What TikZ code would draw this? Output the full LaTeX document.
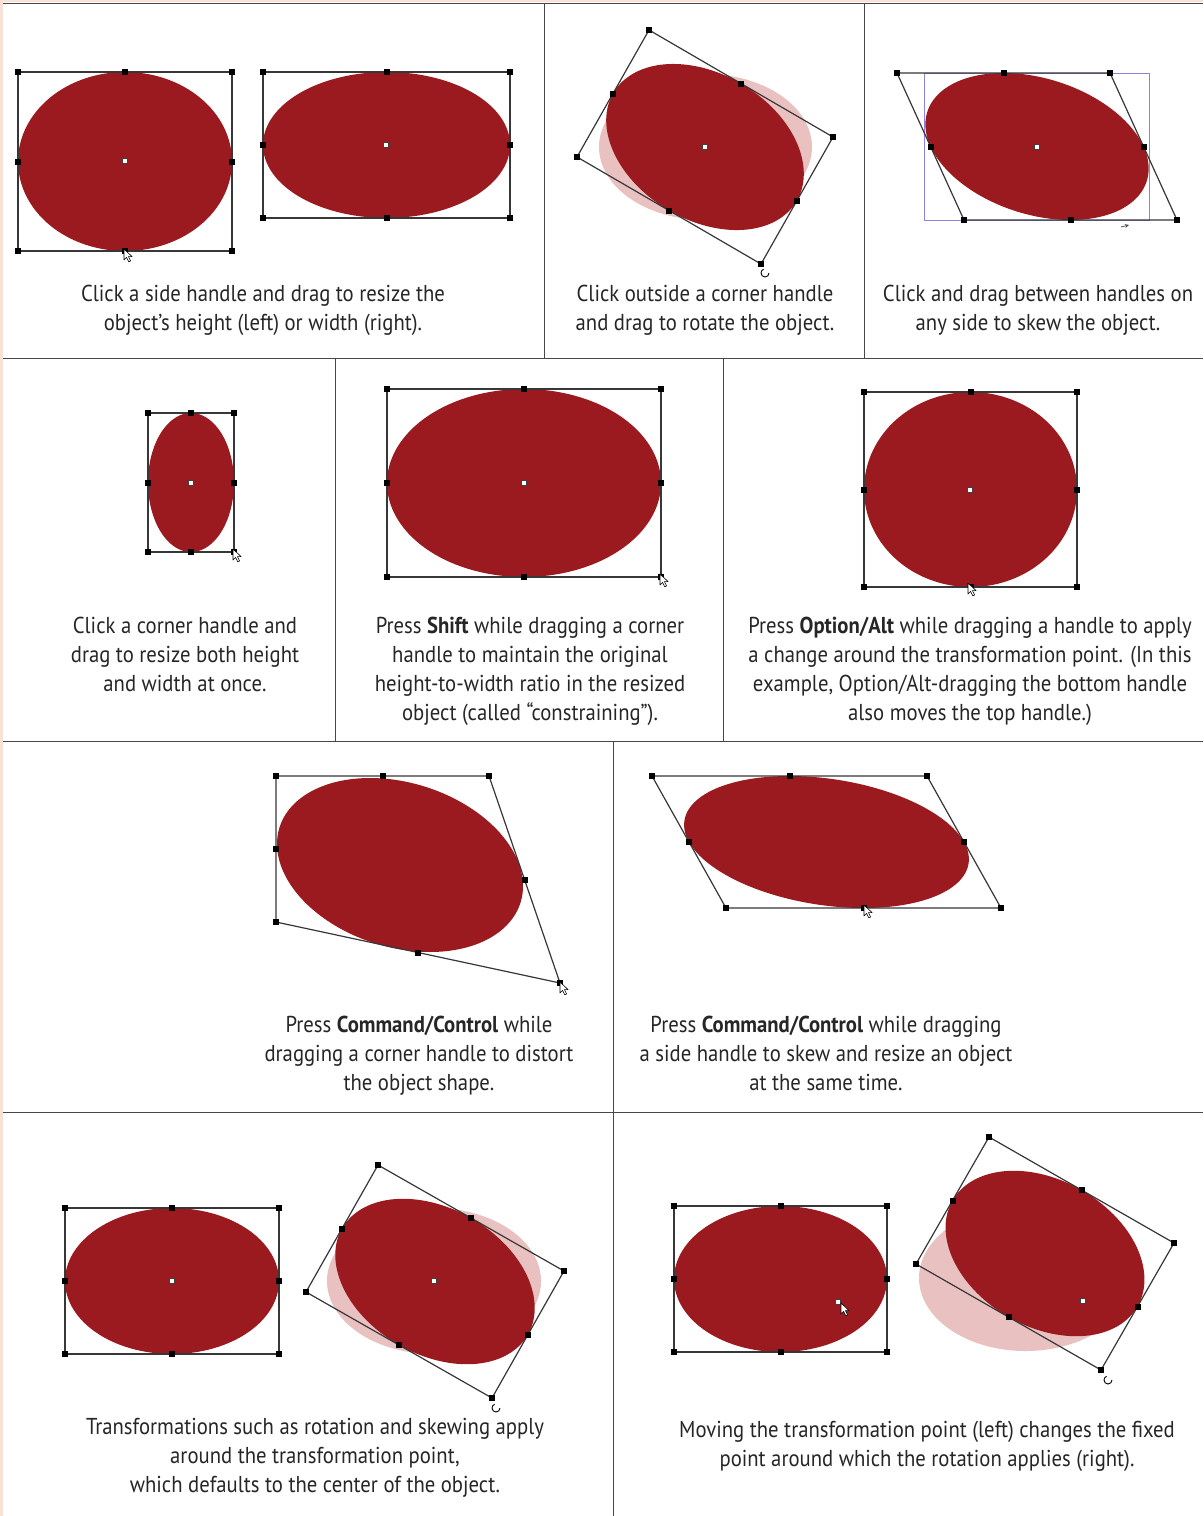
\documentclass[tikz,border=0pt]{standalone}
\usepackage{fontspec}
\setmainfont[FakeStretch=0.9]{PT Sans}
\definecolor{objred}{RGB}{155,26,31}
\definecolor{ghostc}{RGB}{233,193,193}
\definecolor{frameline}{RGB}{72,72,72}
\definecolor{boxl}{RGB}{55,55,55}
\definecolor{skewblue}{RGB}{140,130,225}
\definecolor{pinkstrip}{RGB}{248,226,216}
\definecolor{txt}{RGB}{38,38,38}
% bilinear-mapped ellipse inside quad A(TL) B(TR) C(BR) D(BL); #9 = fill colour
\newcommand\ellq[9]{%
 \fill[#9] plot[domain=0:360,samples=181,variable=\t]
 ({#1+(#3-#1)*(0.5+0.5*cos(\t))+(#7-#1)*(0.5+0.5*sin(\t))+(#1-#3+#5-#7)*(0.5+0.5*cos(\t))*(0.5+0.5*sin(\t))},
  {#2+(#4-#2)*(0.5+0.5*cos(\t))+(#8-#2)*(0.5+0.5*sin(\t))+(#2-#4+#6-#8)*(0.5+0.5*cos(\t))*(0.5+0.5*sin(\t))}) -- cycle;}
% general ellipse: centre (#1,#2), x = p cos t + q sin t, y = r cos t + s sin t
\newcommand\ellp[7]{%
 \fill[#7] plot[domain=0:360,samples=181,variable=\t]
 ({#1+#3*cos(\t)+#4*sin(\t)},{#2+#5*cos(\t)+#6*sin(\t)}) -- cycle;}
% quad outline with 8 handles
\newcommand\quadh[8]{%
 \draw[boxline] (#1,#2) -- (#3,#4) -- (#5,#6) -- (#7,#8) -- cycle;
 \foreach \hx/\hy in {#1/#2,#3/#4,#5/#6,#7/#8}{\fill[black] ({\hx-3},{\hy-3}) rectangle +(6,6);}
 \fill[black] ({(#1+#3)/2-3},{(#2+#4)/2-3}) rectangle +(6,6);
 \fill[black] ({(#3+#5)/2-3},{(#4+#6)/2-3}) rectangle +(6,6);
 \fill[black] ({(#5+#7)/2-3},{(#6+#8)/2-3}) rectangle +(6,6);
 \fill[black] ({(#7+#1)/2-3},{(#8+#2)/2-3}) rectangle +(6,6);}
\newcommand\ctrpt[2]{\filldraw[fill=white,draw=black!75,line width=0.8pt] ({#1-2.5},{#2-2.5}) rectangle +(5,5);}
\newcommand\ptr[2]{\filldraw[fill=white,draw=black,line width=0.6pt,line join=round] (#1,#2) -- ++(0,11) -- ++(2.6,-2.6) -- ++(2.2,4.4) -- ++(1.8,-0.9) -- ++(-2.2,-4.3) -- ++(3.7,0) -- cycle;}
\newcommand\rotcur[2]{\draw[black,line width=0.9pt] ({#1+4},{#2+2}) arc[start angle=0,end angle=250,radius=4];}
\begin{document}
\begin{tikzpicture}[x=1pt,y=-1pt,
  boxline/.style={draw=boxl,line width=1.2pt,line join=round},
  sepline/.style={draw=frameline,line width=1.6pt},
  captxt/.style={font=\fontsize{23}{29}\selectfont,text=txt,align=center,inner sep=0pt,anchor=north}]
\useasboundingbox (0,0) rectangle (1203,1516);
\fill[white] (0,0) rectangle (1203,1516);
\fill[pinkstrip] (0,0) rectangle (3,1516);
\fill[pinkstrip] (0,0) rectangle (1203,2.2);
% frame lines
\draw[sepline] (3,3.5) -- (1203,3.5);
\draw[sepline] (3,358.5) -- (1203,358.5);
\draw[sepline] (3,741.5) -- (1203,741.5);
\draw[sepline] (3,1112.5) -- (1203,1112.5);
\draw[sepline] (544.5,3.5) -- (544.5,358.5);
\draw[sepline] (864.5,3.5) -- (864.5,358.5);
\draw[sepline] (335.5,358.5) -- (335.5,741.5);
\draw[sepline] (723.5,358.5) -- (723.5,741.5);
\draw[sepline] (613.5,741.5) -- (613.5,1516);

% ===== Row 1, panel 1 =====
\ellq{18}{72}{232}{72}{232}{251}{18}{251}{objred}
\quadh{18}{72}{232}{72}{232}{251}{18}{251}
\ctrpt{125}{161}
\ptr{124}{249}
\ellq{263}{72}{510}{72}{510}{218}{263}{218}{objred}
\quadh{263}{72}{510}{72}{510}{218}{263}{218}
\ctrpt{386}{145}
\node[captxt] (c1) at (263,285) {Click a side handle and drag to resize the\\object’s height (left) or width (right).};

% ===== Row 1, panel 2 =====
\ellq{599}{74}{812}{74}{812}{220}{599}{220}{ghostc}
\ellq{649}{30}{833}{137}{761}{264}{577}{157}{objred}
\quadh{649}{30}{833}{137}{761}{264}{577}{157}
\ctrpt{705}{147}
\rotcur{765}{271}
\node[captxt] (c2) at (705,285) {Click outside a corner handle\\and drag to rotate the object.};

% ===== Row 1, panel 3 =====
\draw[skewblue,line width=0.8pt] (924,73) rectangle (1149,220);
\ellq{897}{73}{1110}{73}{1177}{220}{964}{220}{objred}
\quadh{897}{73}{1110}{73}{1177}{220}{964}{220}
\ctrpt{1037}{147}
\draw[black!70,line width=0.8pt,->,>={stealth}] (1121,227) -- (1129,225);
\node[captxt] (c3) at (1038,285) {Click and drag between handles on\\any side to skew the object.};

% ===== Row 2, panel 1 =====
\ellq{148}{413}{234}{413}{234}{552}{148}{552}{objred}
\quadh{148}{413}{234}{413}{234}{552}{148}{552}
\ctrpt{191}{483}
\ptr{233}{549}
\node[captxt] (c4) at (185,617) {Click a corner handle and\\drag to resize both height\\and width at once.};

% ===== Row 2, panel 2 =====
\ellq{387}{389}{661}{389}{661}{577}{387}{577}{objred}
\quadh{387}{389}{661}{389}{661}{577}{387}{577}
\ctrpt{524}{483}
\ptr{660}{574}
\node[captxt] (c5) at (530,617) {Press \textbf{Shift} while dragging a corner\\handle to maintain the original\\height-to-width ratio in the resized\\object (called “constraining”).};

% ===== Row 2, panel 3 =====
\ellq{864}{392}{1077}{392}{1077}{587}{864}{587}{objred}
\quadh{864}{392}{1077}{392}{1077}{587}{864}{587}
\ctrpt{970}{490}
\ptr{968}{583}
\node[captxt] (c6) at (970,617) {Press \textbf{Option/Alt} while dragging a handle to apply\\a change around the transformation point. (In this\\example, Option/Alt-dragging the bottom handle\\also moves the top handle.)};

% ===== Row 3, left =====
\ellp{400}{865}{123}{0}{21.1}{84.4}{objred}
\quadh{276}{776}{489}{776}{560}{983}{276}{922}
\ptr{560}{982}
\node[captxt] (c7) at (419,1016) {Press \textbf{Command/Control} while\\dragging a corner handle to distort\\the object shape.};

% ===== Row 3, right =====
\ellq{652}{776}{927}{776}{1001}{908}{726}{908}{objred}
\quadh{652}{776}{927}{776}{1001}{908}{726}{908}
\ptr{864}{905}
\node[captxt] (c8) at (826,1016) {Press \textbf{Command/Control} while dragging\\a side handle to skew and resize an object\\at the same time.};

% ===== Row 4, left =====
\ellq{65}{1208}{279}{1208}{279}{1354}{65}{1354}{objred}
\quadh{65}{1208}{279}{1208}{279}{1354}{65}{1354}
\ctrpt{172}{1281}
\ellq{327}{1208}{541}{1208}{541}{1354}{327}{1354}{ghostc}
\ellq{378}{1165}{564}{1271}{492}{1398}{306}{1292}{objred}
\quadh{378}{1165}{564}{1271}{492}{1398}{306}{1292}
\ctrpt{434}{1281}
\rotcur{496}{1406}
\node[captxt] (c9) at (315,1418) {Transformations such as rotation and skewing apply\\around the transformation point,\\which defaults to the center of the object.};

% ===== Row 4, right =====
\ellq{674}{1206}{887}{1206}{887}{1352}{674}{1352}{objred}
\quadh{674}{1206}{887}{1206}{887}{1352}{674}{1352}
\ctrpt{838}{1302}
\ptr{841}{1303}
\ellq{919}{1205}{1132}{1205}{1132}{1351}{919}{1351}{ghostc}
\ellq{989}{1137}{1174}{1243}{1101}{1370}{916}{1264}{objred}
\quadh{989}{1137}{1174}{1243}{1101}{1370}{916}{1264}
\ctrpt{1083}{1301}
\rotcur{1108}{1378}
\node[captxt] (c10) at (927,1421) {Moving the transformation point (left) changes the fixed\\point around which the rotation applies (right).};
\end{tikzpicture}
\end{document}
